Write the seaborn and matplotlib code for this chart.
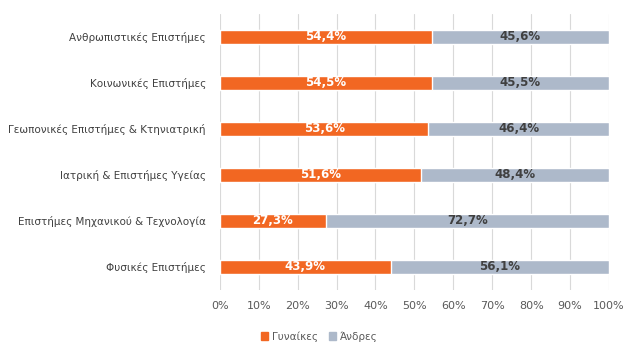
import matplotlib
matplotlib.use("Agg")
import matplotlib.pyplot as plt
import seaborn as sns
import pandas as pd
from matplotlib.patches import Patch

categories = ["Ανθρωπιστικές Επιστήμες", "Κοινωνικές Επιστήμες",
              "Γεωπονικές Επιστήμες & Κτηνιατρική", "Ιατρική & Επιστήμες Υγείας",
              "Επιστήμες Μηχανικού & Τεχνολογία", "Φυσικές Επιστήμες"]
women = [54.4, 54.5, 53.6, 51.6, 27.3, 43.9]
men = [45.6, 45.5, 46.4, 48.4, 72.7, 56.1]
xticks = [0, 10, 20, 30, 40, 50, 60, 70, 80, 90, 100]
series_names = ["Γυναίκες", "Άνδρες"]

c_w = "#F26722"
c_m = "#ADB9CA"

sns.set_style("white")
plt.rcParams['font.family'] = ['DejaVu Sans']

df = pd.DataFrame({"cat": categories, "women": women, "men": men})
df["total"] = df["women"] + df["men"]

fig = plt.figure(figsize=(6.39, 3.57), dpi=100)
ax = fig.add_axes([0.344, 0.188, 0.609, 0.773])

sns.barplot(data=df, y="cat", x="total", color=c_m, width=0.31, ax=ax, saturation=1, orient="h")
sns.barplot(data=df, y="cat", x="women", color=c_w, width=0.31, ax=ax, saturation=1, orient="h")

for i, (w, m) in enumerate(zip(women, men)):
    ax.text(w / 2, i, f"{w:.1f}%".replace(".", ","), ha="center", va="center",
            color="white", fontsize=8.5, fontweight="bold")
    ax.text(w + m / 2, i, f"{m:.1f}%".replace(".", ","), ha="center", va="center",
            color="#404040", fontsize=8.5, fontweight="bold")

ax.set_xlim(0, 100)
ax.set_ylim(5.5, -0.5)
ax.set_xticks(xticks)
ax.set_xticklabels([f"{t}%" for t in xticks], color="#595959", fontsize=8)
ax.tick_params(axis="y", labelsize=7.5, labelcolor="#404040", length=0, pad=10)
ax.tick_params(axis="x", length=0, pad=8)
ax.set_xlabel("")
ax.set_ylabel("")
ax.xaxis.grid(True, color="#D9D9D9", linewidth=0.8)
ax.set_axisbelow(True)
for s in ax.spines.values():
    s.set_visible(False)

handles = [Patch(color=c_w, label=series_names[0]), Patch(color=c_m, label=series_names[1])]
fig.legend(handles=handles, loc="center", bbox_to_anchor=(0.5, 0.058), ncol=2,
           frameon=False, fontsize=7.5, handlelength=0.7, handleheight=0.7,
           handletextpad=0.4, columnspacing=1.0, labelcolor="#595959")

fig.savefig("out.png", dpi=100)
